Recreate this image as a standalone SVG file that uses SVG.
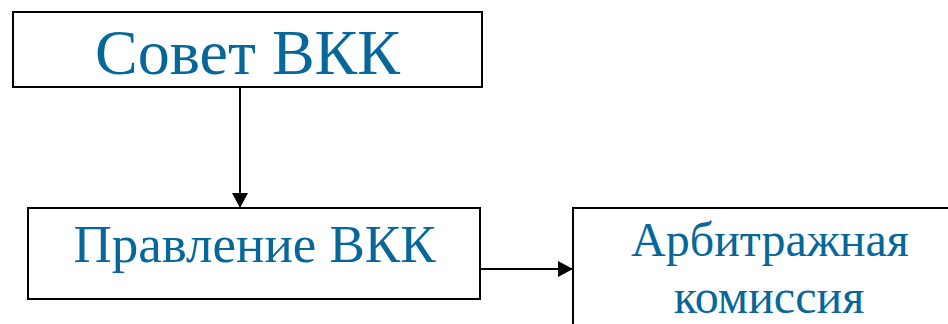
<svg xmlns="http://www.w3.org/2000/svg" width="948" height="324" viewBox="0 0 948 324">
<style>
.box{fill:#fff;stroke:#000;stroke-width:2}
.t{font-family:"Liberation Serif","Times New Roman",serif;fill:#05679A;text-anchor:middle}
.c{stroke:#000;stroke-width:2;fill:none}
</style>
<defs>
<marker id="ah" viewBox="0 0 15 16" refX="15" refY="8" markerWidth="15" markerHeight="16" markerUnits="userSpaceOnUse" orient="auto">
<path d="M0,0 L15,8 L0,16 Z" fill="#000"/>
</marker>
</defs>
<rect width="948" height="324" fill="#fff"/>
<g id="connectors">
<line class="c" x1="240" y1="88" x2="240" y2="208" marker-end="url(#ah)"/>
<line class="c" x1="481" y1="269" x2="573" y2="269" marker-end="url(#ah)"/>
</g>
<g id="sovet">
<rect class="box" x="13" y="12" width="469" height="75"/>
<text class="t" x="247.500" y="74" font-size="64">Совет ВКК</text>
</g>
<g id="pravlenie">
<rect class="box" x="28" y="208" width="452" height="91"/>
<text class="t" x="254.500" y="262" font-size="53">Правление ВКК</text>
</g>
<g id="arbitr">
<rect class="box" x="573" y="208" width="420" height="160"/>
<text class="t" x="770" y="256" font-size="48">Арбитражная</text>
<text class="t" x="769" y="313" font-size="48">комиссия</text>
</g>
</svg>
